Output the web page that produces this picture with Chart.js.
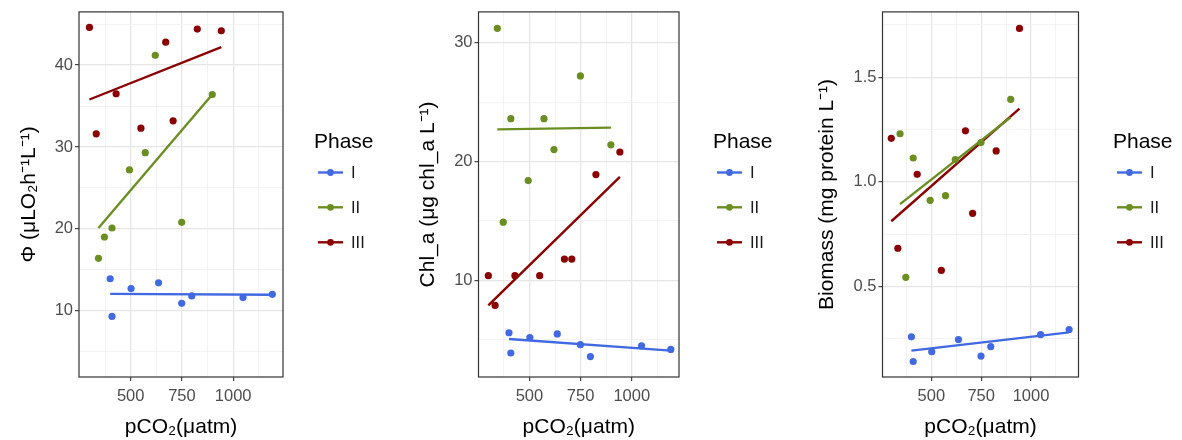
<!DOCTYPE html>
<html>
<head>
<meta charset="utf-8">
<script src="https://cdn.jsdelivr.net/npm/chart.js@4.4.1/dist/chart.umd.min.js"></script>
<style>
  body { margin: 0; background: #fff; }
  #wrap { position: relative; width: 1182px; height: 440px; }
  canvas { position: absolute; top: 0; }
</style>
</head>
<body>
<div id="wrap">
  <canvas id="c1" width="394" height="440" style="left:0px"></canvas>
  <canvas id="c2" width="394" height="440" style="left:394px"></canvas>
  <canvas id="c3" width="394" height="440" style="left:788px"></canvas>
</div>
<script>
// phases and colours
const phases = ['I', 'II', 'III'];
const phaseColors = ['#4169E1', '#6B8E23', '#8B0000'];

// pCO2 (µatm) per phase
const pco2I   = [400, 409, 502, 636, 749, 798, 1048, 1191];
const pco2II  = [343, 372, 409, 494, 571, 620, 749, 898];
const pco2III = [299, 332, 429, 550, 671, 707, 825, 942];

// panel 1: Phi
const phiI   = [13.9, 9.3, 12.7, 13.4, 10.9, 11.8, 11.6, 12.0];
const phiII  = [16.4, 19.0, 20.1, 27.2, 29.3, 41.2, 20.8, 36.4];
const phiIII = [44.6, 31.6, 36.5, 32.3, 42.8, 33.2, 44.4, 44.2];
const phiFit = [[12.05, 11.95], [20.1, 36.4], [35.8, 42.2]];   // fitted line start/end

// panel 2: Chl_a
const chlI   = [5.6, 3.9, 5.2, 5.5, 4.6, 3.6, 4.5, 4.2];
const chlII  = [31.2, 14.9, 23.6, 18.4, 23.6, 21.0, 27.2, 21.4];
const chlIII = [10.4, 7.9, 10.4, 10.4, 11.8, 11.8, 18.9, 20.8];
const chlFit = [[5.08, 4.1], [22.7, 22.85], [7.9, 18.7]];

// panel 3: Biomass
const bioI   = [0.26, 0.142, 0.189, 0.247, 0.168, 0.213, 0.27, 0.295];
const bioII  = [1.23, 0.544, 1.114, 0.912, 0.934, 1.107, 1.188, 1.394];
const bioIII = [1.208, 0.683, 1.036, 0.577, 1.244, 0.85, 1.148, 1.733];
const bioFit = [[0.194, 0.281], [0.894, 1.309], [0.812, 1.35]];

// tick labels
const xMajor = [500, 750, 1000];
const xMinor = [375, 625, 875, 1125];

const FONT = '"Liberation Sans", Arial, sans-serif';

// panel border + custom ggplot-ish legend
const panelPlugin = {
  id: 'panel',
  afterDatasetsDraw(chart) {
    const a = chart.chartArea, ctx = chart.ctx;
    ctx.save();
    ctx.strokeStyle = '#333333';
    ctx.lineWidth = 1.2;
    ctx.strokeRect(a.left, a.top, a.right - a.left, a.bottom - a.top);
    ctx.restore();
  },
  afterDraw(chart, args, opts) {
    const ctx = chart.ctx, x = opts.x;
    ctx.save();
    ctx.fillStyle = '#000';
    ctx.textBaseline = 'middle';
    ctx.font = '21px ' + FONT;
    ctx.fillText('Phase', x, 142);
    const ys = [172.5, 207.3, 242.3];
    phases.forEach((p, i) => {
      ctx.strokeStyle = phaseColors[i];
      ctx.fillStyle = phaseColors[i];
      ctx.lineWidth = 2.4;
      ctx.beginPath();
      ctx.moveTo(x + 4, ys[i]);
      ctx.lineTo(x + 29, ys[i]);
      ctx.stroke();
      ctx.beginPath();
      ctx.arc(x + 16.5, ys[i], 3.4, 0, Math.PI * 2);
      ctx.fill();
      ctx.fillStyle = '#1a1a1a';
      ctx.font = '16.5px ' + FONT;
      ctx.fillText(p, x + 37, ys[i] + 1);
    });
    ctx.restore();
  }
};

function makeTicks(major, minor) {
  return major.map(v => ({ value: v, minor: false }))
    .concat(minor.map(v => ({ value: v, minor: true })))
    .sort((a, b) => a.value - b.value);
}

function buildChart(id, xs, ys, fits, opt) {
  const datasets = [];
  phases.forEach((p, i) => {
    datasets.push({
      label: p,
      data: xs[i].map((x, j) => ({ x: x, y: ys[i][j] })),
      backgroundColor: phaseColors[i],
      pointRadius: 3.6,
      pointBorderWidth: 0,
      showLine: false
    });
  });
  phases.forEach((p, i) => {
    datasets.push({
      label: p + ' fit',
      data: [
        { x: Math.min(...xs[i]), y: fits[i][0] },
        { x: Math.max(...xs[i]), y: fits[i][1] }
      ],
      borderColor: phaseColors[i],
      borderWidth: 2.4,
      pointRadius: 0,
      showLine: true
    });
  });

  const gridColor = c => c.tick && c.tick.minor ? '#f0f0f0' : '#e6e6e6';
  const gridWidth = c => c.tick && c.tick.minor ? 0.8 : 1.3;
  const tickColor = c => c.tick && c.tick.minor ? 'rgba(0,0,0,0)' : '#333333';

  new Chart(document.getElementById(id), {
    type: 'scatter',
    data: { datasets: datasets },
    plugins: [panelPlugin],
    options: {
      responsive: false,
      animation: false,
      devicePixelRatio: 1,
      layout: { padding: { left: 0, top: 9, right: opt.padRight, bottom: 0 } },
      plugins: {
        legend: { display: false },
        tooltip: { enabled: false },
        panel: { x: opt.legendX }
      },
      scales: {
        x: {
          type: 'linear',
          min: opt.xMin, max: opt.xMax,
          afterBuildTicks: s => { s.ticks = makeTicks(xMajor, xMinor); },
          afterFit: s => { s.height = 63; },
          border: { display: false },
          grid: { color: gridColor, lineWidth: gridWidth, tickColor: tickColor, tickLength: 4, tickWidth: 1.1 },
          ticks: {
            autoSkip: false, maxRotation: 0, padding: 6,
            color: '#4d4d4d', font: { family: FONT, size: 16.5 },
            callback: (v, i, t) => t[i].minor ? '' : String(v)
          },
          title: {
            display: true, text: 'pCO₂(μatm)', color: '#000',
            font: { family: FONT, size: 21 }, padding: { top: 0, bottom: 0 }
          }
        },
        y: {
          type: 'linear',
          min: opt.yMin, max: opt.yMax,
          afterBuildTicks: s => { s.ticks = makeTicks(opt.yMajor, opt.yMinor); },
          afterFit: s => { s.width = opt.left; },
          border: { display: false },
          grid: { color: gridColor, lineWidth: gridWidth, tickColor: tickColor, tickLength: 4, tickWidth: 1.1 },
          ticks: {
            autoSkip: false, padding: 2,
            color: '#4d4d4d', font: { family: FONT, size: 16.5 },
            callback: (v, i, t) => t[i].minor ? '' : (opt.dec ? v.toFixed(opt.dec) : String(v))
          },
          title: {
            display: true, text: opt.yTitle, color: '#000',
            font: { family: FONT, size: 21 }, padding: { top: opt.titlePad, bottom: 0 }
          }
        }
      }
    }
  });
}

buildChart('c1', [pco2I, pco2II, pco2III], [phiI, phiII, phiIII], phiFit, {
  left: 79, padRight: 111, legendX: 314,
  xMin: 248, xMax: 1243,
  yMin: 1.9, yMax: 46.5, yMajor: [10, 20, 30, 40], yMinor: [5, 15, 25, 35, 45],
  yTitle: 'Φ (μLO₂h⁻¹L⁻¹)', titlePad: 17, dec: 0
});

buildChart('c2', [pco2I, pco2II, pco2III], [chlI, chlII, chlIII], chlFit, {
  left: 84.5, padRight: 109, legendX: 319,
  xMin: 251, xMax: 1231,
  yMin: 1.88, yMax: 32.58, yMajor: [10, 20, 30], yMinor: [5, 15, 25],
  yTitle: 'Chl_a (μg chl_a L⁻¹)', titlePad: 22, dec: 0
});

buildChart('c3', [pco2I, pco2II, pco2III], [bioI, bioII, bioIII], bioFit, {
  left: 94.5, padRight: 103.5, legendX: 325,
  xMin: 255, xMax: 1238,
  yMin: 0.068, yMax: 1.812, yMajor: [0.5, 1.0, 1.5], yMinor: [0.25, 0.75, 1.25, 1.75],
  yTitle: 'Biomass (mg protein L⁻¹)', titlePad: 27, dec: 1
});
</script>
</body>
</html>
